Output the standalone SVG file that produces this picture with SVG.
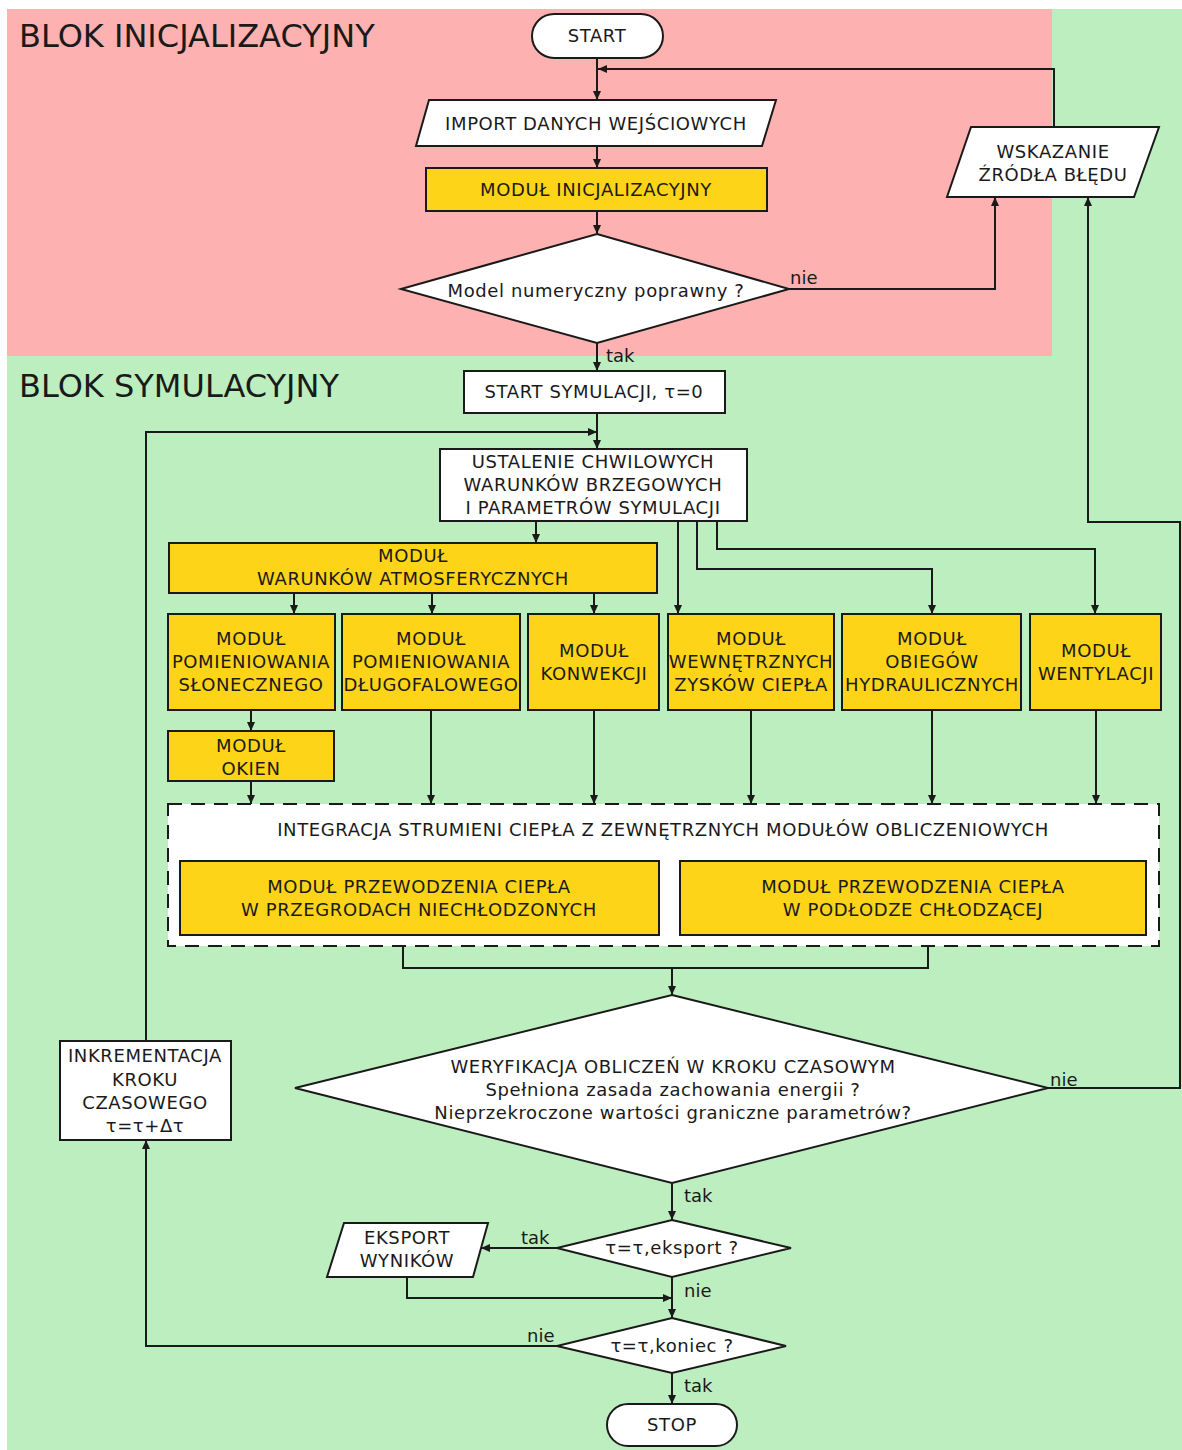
<svg xmlns="http://www.w3.org/2000/svg" width="1182" height="1450" viewBox="0 0 1182 1450">
<style>
.t{font-family:"DejaVu Sans","Liberation Sans",sans-serif;font-size:18px;letter-spacing:0.6px;fill:#1a1a1a;text-anchor:middle}
.lb{font-family:"DejaVu Sans","Liberation Sans",sans-serif;font-size:18px;fill:#1a1a1a}
.title{font-family:"DejaVu Sans","Liberation Sans",sans-serif;font-size:32px;fill:#1a1a1a}
.w{fill:#ffffff;stroke:#1a1a1a;stroke-width:2}
.y{fill:#fdd417;stroke:#1a1a1a;stroke-width:2}
.c{fill:none;stroke:#1a1a1a;stroke-width:2}
</style>
<defs>
<marker id="ah" markerWidth="10" markerHeight="8" refX="9" refY="4" orient="auto" markerUnits="userSpaceOnUse"><path d="M0,0 L9,4 L0,8 z" fill="#1a1a1a"/></marker>
</defs>
<rect x="7" y="9" width="1175" height="1441" fill="#bdeebf"/>
<rect x="7" y="9" width="1045" height="347" fill="#fdb1b0"/>
<text class="title" x="19" y="47">BLOK INICJALIZACYJNY</text>
<text class="title" x="19" y="397">BLOK SYMULACYJNY</text>

<g id="connectors">
<path class="c" d="M597,58 V100" marker-end="url(#ah)"/>
<path class="c" d="M1054,127 V69 H598" marker-end="url(#ah)"/>
<path class="c" d="M597,146 V168" marker-end="url(#ah)"/>
<path class="c" d="M597,211 V234" marker-end="url(#ah)"/>
<path class="c" d="M789,289 H995 V197" marker-end="url(#ah)"/>
<path class="c" d="M597,343 V371" marker-end="url(#ah)"/>
<path class="c" d="M597,413 V449" marker-end="url(#ah)"/>
<path class="c" d="M146,1041 V432 H597" marker-end="url(#ah)"/>
<path class="c" d="M536,521 V543" marker-end="url(#ah)"/>
<path class="c" d="M678,521 V614" marker-end="url(#ah)"/>
<path class="c" d="M697,521 V569 H932 V614" marker-end="url(#ah)"/>
<path class="c" d="M717,521 V549 H1095 V614" marker-end="url(#ah)"/>
<path class="c" d="M294,593 V614" marker-end="url(#ah)"/>
<path class="c" d="M432,593 V614" marker-end="url(#ah)"/>
<path class="c" d="M594,593 V614" marker-end="url(#ah)"/>
<path class="c" d="M251,710 V731" marker-end="url(#ah)"/>
<path class="c" d="M251,781 V804" marker-end="url(#ah)"/>
<path class="c" d="M431,710 V804" marker-end="url(#ah)"/>
<path class="c" d="M594,710 V804" marker-end="url(#ah)"/>
<path class="c" d="M751,710 V804" marker-end="url(#ah)"/>
<path class="c" d="M932,710 V804" marker-end="url(#ah)"/>
<path class="c" d="M1096,710 V804" marker-end="url(#ah)"/>
<path class="c" d="M403,935 V968 H928 V935"/>
<path class="c" d="M672,968 V995" marker-end="url(#ah)"/>
<path class="c" d="M1048,1088 H1180 V522 H1088 V197" marker-end="url(#ah)"/>
<path class="c" d="M672,1183 V1220" marker-end="url(#ah)"/>
<path class="c" d="M557,1248 H481" marker-end="url(#ah)"/>
<path class="c" d="M407,1277 V1298 H672" marker-end="url(#ah)"/>
<path class="c" d="M672,1277 V1318" marker-end="url(#ah)"/>
<path class="c" d="M557,1346 H146 V1140" marker-end="url(#ah)"/>
<path class="c" d="M672,1373 V1404" marker-end="url(#ah)"/>
<text class="lb" x="790" y="284">nie</text>
<text class="lb" x="606" y="362">tak</text>
<text class="lb" x="1050" y="1086">nie</text>
<text class="lb" x="684" y="1202">tak</text>
<text class="lb" x="521" y="1244">tak</text>
<text class="lb" x="684" y="1297">nie</text>
<text class="lb" x="527" y="1342">nie</text>
<text class="lb" x="684" y="1392">tak</text>
</g>

<g id="start"><rect class="w" x="532" y="14" width="131" height="44" rx="22"/><text class="t" x="597" y="42">START</text></g>
<g id="import"><path class="w" d="M429,100 H776 L762,146 H416 Z"/><text class="t" x="596" y="130">IMPORT DANYCH WEJŚCIOWYCH</text></g>
<g id="modul-init"><rect class="y" x="426" y="168" width="341" height="43"/><text class="t" x="596" y="196">MODUŁ INICJALIZACYJNY</text></g>
<g id="model-ok"><path class="w" d="M597,234 L789,289 L597,343 L401,289 Z"/><text class="t" x="596" y="297">Model numeryczny poprawny ?</text></g>
<g id="wskazanie"><path class="w" d="M971,127 H1159 L1134,197 H947 Z"/><text class="t" x="1053" y="158">WSKAZANIE</text><text class="t" x="1053" y="181">ŹRÓDŁA BŁĘDU</text></g>
<g id="start-sym"><rect class="w" x="464" y="371" width="261" height="42"/><text class="t" x="594" y="398">START SYMULACJI, τ=0</text></g>
<g id="ustalenie"><rect class="w" x="440" y="449" width="307" height="72"/><text class="t" x="593" y="468">USTALENIE CHWILOWYCH</text><text class="t" x="593" y="491">WARUNKÓW BRZEGOWYCH</text><text class="t" x="593" y="514">I PARAMETRÓW SYMULACJI</text></g>
<g id="atmos"><rect class="y" x="169" y="543" width="488" height="50"/><text class="t" x="413" y="562">MODUŁ</text><text class="t" x="413" y="585">WARUNKÓW ATMOSFERYCZNYCH</text></g>
<g id="slon"><rect class="y" x="168" y="614" width="167" height="96"/><text class="t" x="251" y="645">MODUŁ</text><text class="t" x="251" y="668">POMIENIOWANIA</text><text class="t" x="251" y="691">SŁONECZNEGO</text></g>
<g id="dlugo"><rect class="y" x="342" y="614" width="178" height="96"/><text class="t" x="431" y="645">MODUŁ</text><text class="t" x="431" y="668">POMIENIOWANIA</text><text class="t" x="431" y="691">DŁUGOFALOWEGO</text></g>
<g id="konw"><rect class="y" x="528" y="614" width="131" height="96"/><text class="t" x="594" y="657">MODUŁ</text><text class="t" x="594" y="680">KONWEKCJI</text></g>
<g id="wewn"><rect class="y" x="668" y="614" width="166" height="96"/><text class="t" x="751" y="645">MODUŁ</text><text class="t" x="751" y="668">WEWNĘTRZNYCH</text><text class="t" x="751" y="691">ZYSKÓW CIEPŁA</text></g>
<g id="obieg"><rect class="y" x="842" y="614" width="179" height="96"/><text class="t" x="932" y="645">MODUŁ</text><text class="t" x="932" y="668">OBIEGÓW</text><text class="t" x="932" y="691">HYDRAULICZNYCH</text></g>
<g id="went"><rect class="y" x="1030" y="614" width="131" height="96"/><text class="t" x="1096" y="657">MODUŁ</text><text class="t" x="1096" y="680">WENTYLACJI</text></g>
<g id="okien"><rect class="y" x="168" y="731" width="166" height="50"/><text class="t" x="251" y="752">MODUŁ</text><text class="t" x="251" y="775">OKIEN</text></g>
<g id="integracja"><rect x="168" y="804" width="991" height="142" fill="#ffffff" stroke="#1a1a1a" stroke-width="2" stroke-dasharray="14 9"/><text class="t" x="663" y="836">INTEGRACJA STRUMIENI CIEPŁA Z ZEWNĘTRZNYCH MODUŁÓW OBLICZENIOWYCH</text></g>
<g id="przegrody"><rect class="y" x="180" y="861" width="479" height="74"/><text class="t" x="419" y="893">MODUŁ PRZEWODZENIA CIEPŁA</text><text class="t" x="419" y="916">W PRZEGRODACH NIECHŁODZONYCH</text></g>
<g id="podloze"><rect class="y" x="680" y="861" width="466" height="74"/><text class="t" x="913" y="893">MODUŁ PRZEWODZENIA CIEPŁA</text><text class="t" x="913" y="916">W PODŁODZE CHŁODZĄCEJ</text></g>
<g id="weryfikacja"><path class="w" d="M672,995 L1048,1088 L672,1183 L295,1088 Z"/><text class="t" x="673" y="1073">WERYFIKACJA OBLICZEŃ W KROKU CZASOWYM</text><text class="t" x="673" y="1096">Spełniona zasada zachowania energii ?</text><text class="t" x="673" y="1119">Nieprzekroczone wartości graniczne parametrów?</text></g>
<g id="eksport-q"><path class="w" d="M672,1220 L791,1248 L672,1277 L557,1248 Z"/><text class="t" x="672" y="1254">τ=τ,eksport ?</text></g>
<g id="eksport"><path class="w" d="M344,1223 H488 L473,1277 H327 Z"/><text class="t" x="407" y="1244">EKSPORT</text><text class="t" x="407" y="1267">WYNIKÓW</text></g>
<g id="koniec-q"><path class="w" d="M672,1318 L786,1346 L672,1373 L557,1346 Z"/><text class="t" x="672" y="1352">τ=τ,koniec ?</text></g>
<g id="inkrement"><rect class="w" x="60" y="1041" width="171" height="99"/><text class="t" x="145" y="1062">INKREMENTACJA</text><text class="t" x="145" y="1086">KROKU</text><text class="t" x="145" y="1109">CZASOWEGO</text><text class="t" x="145" y="1132">τ=τ+Δτ</text></g>
<g id="stop"><rect class="w" x="607" y="1404" width="130" height="42" rx="21"/><text class="t" x="672" y="1431">STOP</text></g>
</svg>
